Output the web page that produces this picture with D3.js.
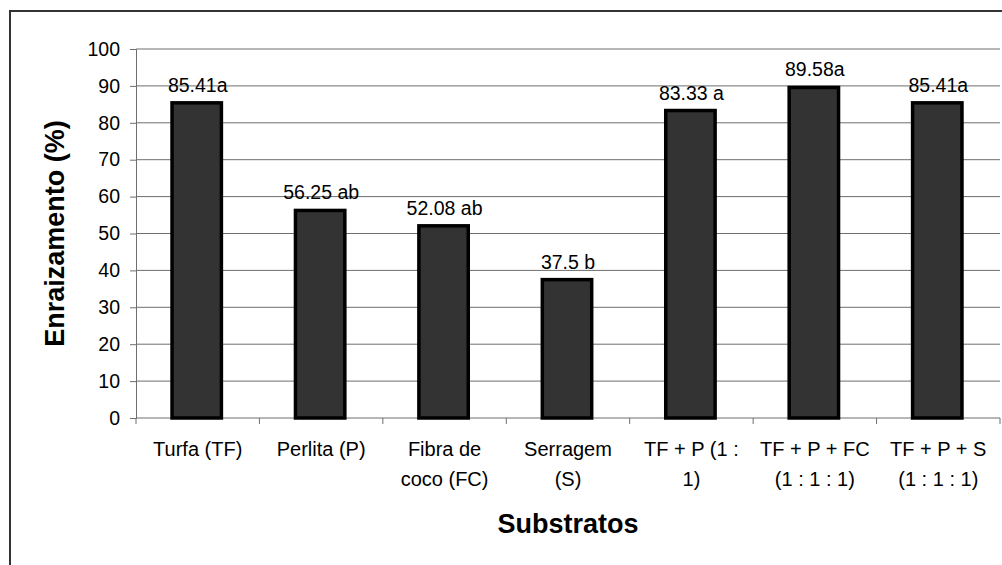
<!DOCTYPE html>
<html>
<head>
<meta charset="utf-8">
<script src="https://cdn.jsdelivr.net/npm/d3@7"></script>
<style>
  body { margin: 0; background: #fff; }
  text { font-family: "Liberation Sans", Arial, sans-serif; fill: #000; }
</style>
</head>
<body>
<svg id="chart" width="1002" height="565"></svg>
<script>
// data
var categories = ["Turfa (TF)", "Perlita (P)", "Fibra de coco (FC)", "Serragem (S)",
                  "TF + P (1 : 1)", "TF + P + FC (1 : 1 : 1)", "TF + P + S (1 : 1 : 1)"];
var catLines = [["Turfa (TF)"], ["Perlita (P)"], ["Fibra de", "coco (FC)"], ["Serragem", "(S)"],
                ["TF + P (1 :", "1)"], ["TF + P + FC", "(1 : 1 : 1)"], ["TF + P + S", "(1 : 1 : 1)"]];
var values = [85.41, 56.25, 52.08, 37.5, 83.33, 89.58, 85.41];
var barLabels = ["85.41a", "56.25 ab", "52.08 ab", "37.5 b", "83.33 a", "89.58a", "85.41a"];
var yTicks = [0, 10, 20, 30, 40, 50, 60, 70, 80, 90, 100];

function drawChart()
{
  var svg = d3.select('#chart');

  // outer frame (only left and top edges fall inside the picture)
  svg.append('rect')
    .attr('x', 10).attr('y', 11)
    .attr('width', 1200).attr('height', 1000)
    .attr('fill', 'none')
    .attr('stroke', '#333').attr('stroke-width', 2);

  var pLeft = 136, pRight = 1000, pTop = 49, pBottom = 418;

  var x = d3.scaleBand().domain(categories).range([pLeft, pRight]).padding(0);
  var y = d3.scaleLinear().domain([0, 100]).range([pBottom, pTop]);

  // gridlines
  svg.append('g')
    .selectAll('line')
    .data(yTicks.filter(function(d) { return d > 0; }))
    .enter().append('line')
      .attr('x1', pLeft).attr('x2', pRight)
      .attr('y1', function(d) { return y(d); })
      .attr('y2', function(d) { return y(d); })
      .attr('stroke', '#6e6e6e').attr('stroke-width', 1);

  // y axis
  var yAxis = svg.append('g')
    .attr('transform', 'translate(' + pLeft + ',0)')
    .call(d3.axisLeft(y).tickValues(yTicks).tickSize(6).tickPadding(10));
  yAxis.select('.domain').attr('stroke', '#6e6e6e');
  yAxis.selectAll('.tick line').attr('stroke', '#6e6e6e');
  yAxis.selectAll('.tick text')
    .style('font-size', '19.5px')
    .attr('fill', '#000');

  // x axis line and boundary ticks
  svg.append('line')
    .attr('x1', pLeft).attr('x2', pRight)
    .attr('y1', pBottom).attr('y2', pBottom)
    .attr('stroke', '#6e6e6e');
  svg.append('g')
    .selectAll('line')
    .data(d3.range(categories.length + 1))
    .enter().append('line')
      .attr('x1', function(i) { return pLeft + i * x.step(); })
      .attr('x2', function(i) { return pLeft + i * x.step(); })
      .attr('y1', pBottom).attr('y2', pBottom + 6)
      .attr('stroke', '#6e6e6e');

  // bars
  var barW = x.bandwidth() * 0.40;
  svg.append('g')
    .selectAll('rect')
    .data(values)
    .enter().append('rect')
      .attr('x', function(d, i) { return x(categories[i]) + x.bandwidth() / 2 - barW / 2 - 1; })
      .attr('y', function(d) { return y(d); })
      .attr('width', barW)
      .attr('height', function(d) { return pBottom - y(d); })
      .attr('fill', '#333')
      .attr('stroke', '#000')
      .attr('stroke-width', 3.5);

  // value labels
  svg.append('g')
    .selectAll('text')
    .data(values)
    .enter().append('text')
      .attr('x', function(d, i) { return x(categories[i]) + x.bandwidth() / 2; })
      .attr('y', function(d) { return y(d) - 11; })
      .attr('text-anchor', 'middle')
      .style('font-size', '19.5px')
      .text(function(d, i) { return barLabels[i]; });

  // category labels
  var catG = svg.append('g');
  catLines.forEach(function(lines, i) {
    lines.forEach(function(l, j) {
      catG.append('text')
        .attr('x', x(categories[i]) + x.bandwidth() / 2)
        .attr('y', 456 + j * 30)
        .attr('text-anchor', 'middle')
        .style('font-size', '20px')
        .text(l);
    });
  });

  // axis titles
  svg.append('text')
    .attr('x', (pLeft + pRight) / 2).attr('y', 533)
    .attr('text-anchor', 'middle')
    .style('font-size', '27px').style('font-weight', 'bold')
    .text('Substratos');

  svg.append('text')
    .attr('transform', 'translate(64,' + (pTop + pBottom) / 2 + ') rotate(-90)')
    .attr('text-anchor', 'middle')
    .style('font-size', '27px').style('font-weight', 'bold')
    .text('Enraizamento (%)');
}

drawChart();
</script>
</body>
</html>
